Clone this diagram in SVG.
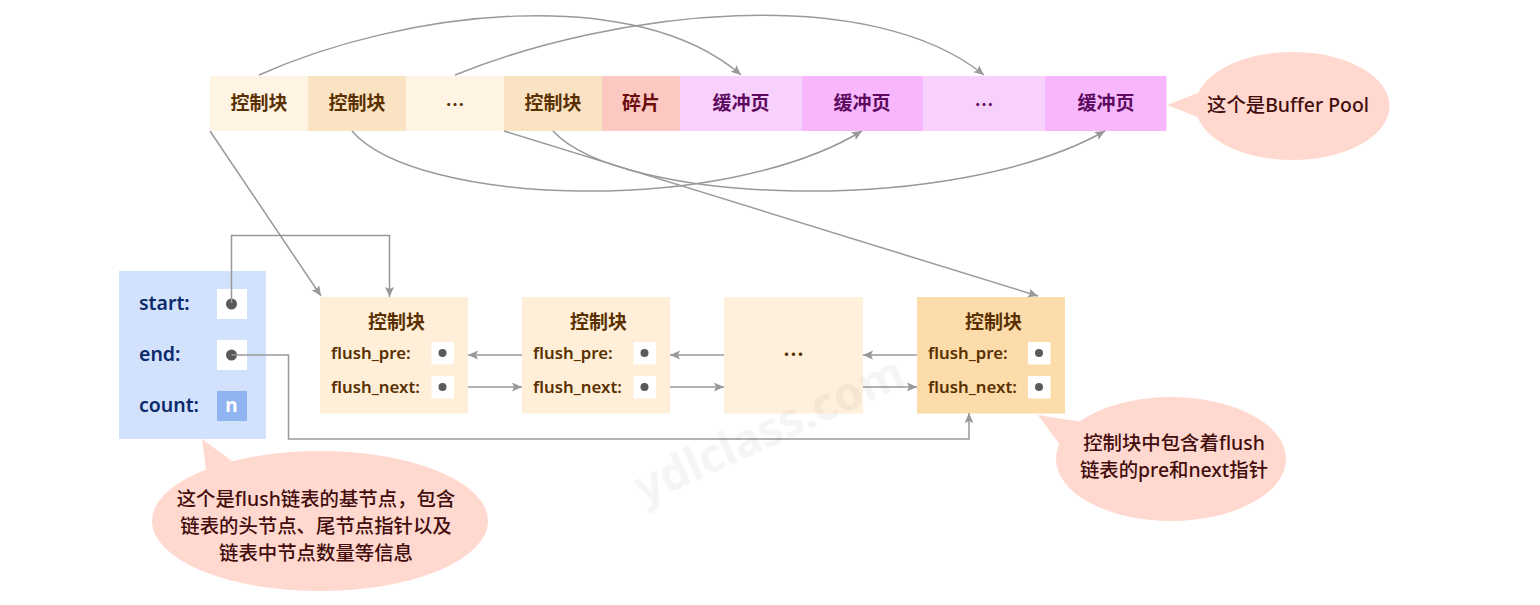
<svg xmlns="http://www.w3.org/2000/svg" width="1540" height="605" viewBox="0 0 1540 605">
<style>
text{font-family:"Noto Sans","Noto Sans CJK SC",sans-serif;text-anchor:middle;dominant-baseline:central}
.t{font-size:19px;font-weight:700;fill:#5a3000}
.e{font-family:"Noto Sans CJK SC",sans-serif}
.m{fill:#5c0a60}
.f{font-size:16.800px;font-weight:600;fill:#5a3000;text-anchor:start}
.b{font-size:19.500px;font-weight:600;fill:#0b2a6b;text-anchor:start}
.c{font-size:19.400px;font-weight:500;fill:#430d0d}
.w{fill:#fff}
.d{fill:#5a5a5a}
.l{fill:none;stroke:#999;stroke-width:1.5}
.a{marker-end:url(#arr)}
.bub{fill:#ffd9cf}
</style>
<defs><marker id="arr" markerUnits="userSpaceOnUse" markerWidth="12" markerHeight="10" refX="10" refY="4.500" orient="auto"><path d="M0 0L10 4.500L0 9L2 4.500Z" fill="#999"/></marker></defs>
<g id="pool">
<rect x="210" y="76" width="98" height="55" fill="#fff3e3"/><rect x="308" y="76" width="98" height="55" fill="#fae3c2"/><rect x="406" y="76" width="98" height="55" fill="#fff3e3"/><rect x="504" y="76" width="98" height="55" fill="#fae3c2"/><rect x="602" y="76" width="78" height="55" fill="#fbc8c2"/><rect x="680" y="76" width="121.500" height="55" fill="#f7d1fb"/><rect x="801.500" y="76" width="121.500" height="55" fill="#f8b7fd"/><rect x="923" y="76" width="122" height="55" fill="#f7d1fb"/><rect x="1045" y="76" width="121.500" height="55" fill="#f8b7fd"/>
<text class="t" x="259" y="103">控制块</text><text class="t" x="357" y="103">控制块</text><text class="t e" x="455" y="103">…</text><text class="t" x="553" y="103">控制块</text><text class="t" x="641" y="103" style="fill:#6b0d0d">碎片</text><text class="t m" x="741" y="103">缓冲页</text><text class="t m" x="862" y="103">缓冲页</text><text class="t m e" x="984" y="103">…</text><text class="t m" x="1106" y="103">缓冲页</text>
</g>
<g id="base"><rect x="119" y="271" width="147" height="168" fill="#d3e2fc"/>
<text class="b" x="139" y="302">start:</text><text class="b" x="139" y="353">end:</text><text class="b" x="139" y="404">count:</text>
<rect class="w" x="217" y="289" width="30" height="30"/><rect class="w" x="217" y="340" width="30" height="30"/><rect x="217" y="391" width="30" height="30" fill="#8fb4f0"/>
<circle class="d" cx="231.500" cy="304" r="5.500"/><circle class="d" cx="231.500" cy="355" r="5.500"/><text x="231.500" y="405" style="font-size:19px;font-weight:700;fill:#fff">n</text></g>
<g id="node1"><rect x="320" y="297" width="148" height="116.500" fill="#ffefd9"/><text class="t" x="396.500" y="322">控制块</text><text class="f" x="331" y="352">flush_pre:</text><text class="f" x="331" y="386">flush_next:</text><rect class="w" x="431.500" y="342" width="22.500" height="22.500"/><rect class="w" x="431.500" y="376" width="22.500" height="22.500"/><circle class="d" cx="442.500" cy="353" r="4"/><circle class="d" cx="442.500" cy="387" r="4"/></g>
<g id="node2"><rect x="522" y="297" width="148" height="116.500" fill="#ffefd9"/><text class="t" x="598.500" y="322">控制块</text><text class="f" x="533" y="352">flush_pre:</text><text class="f" x="533" y="386">flush_next:</text><rect class="w" x="633.500" y="342" width="22.500" height="22.500"/><rect class="w" x="633.500" y="376" width="22.500" height="22.500"/><circle class="d" cx="644.500" cy="353" r="4"/><circle class="d" cx="644.500" cy="387" r="4"/></g>
<g id="node3"><rect x="724" y="297" width="139" height="116.500" fill="#fff0dc"/><text class="t e" x="793.500" y="353" style="font-size:21px">…</text></g>
<g id="node4"><rect x="917" y="297" width="148" height="116.500" fill="#fddcab"/><text class="t" x="993.500" y="322">控制块</text><text class="f" x="928" y="352">flush_pre:</text><text class="f" x="928" y="386">flush_next:</text><rect class="w" x="1028" y="342" width="22.500" height="22.500"/><rect class="w" x="1028" y="376" width="22.500" height="22.500"/><circle class="d" cx="1039" cy="353" r="4"/><circle class="d" cx="1039" cy="387" r="4"/></g>
<g id="connectors">
<path class="l a" d="M259 75C405 10 635 -17 741 75"/>
<path class="l a" d="M455 75C615 10 869 -18 984 75"/>
<path class="l a" d="M352 131C415 205 720 217 862 131"/>
<path class="l a" d="M553 131C621 205 952 217 1105 131"/>
<path class="l a" d="M210 131L321 296"/>
<path class="l a" d="M504 131L1038 296"/>
<path class="l a" d="M231.500 303V235.500H389.500V297"/>
<path class="l a" d="M231.500 355H288.500V439H969V413"/>
<path class="l a" d="M522 355H468"/><path class="l a" d="M724 355H670"/><path class="l a" d="M917 355H863"/>
<path class="l a" d="M468 387H522"/><path class="l a" d="M670 387H724"/><path class="l a" d="M863 387H917"/>
</g>
<g id="note-pool"><path class="bub" d="M1167 105L1200 92L1200 118Z"/><ellipse class="bub" cx="1292.500" cy="106" rx="97" ry="54"/><text class="c" x="1288" y="104">这个是Buffer Pool</text></g>
<g id="note-base"><path class="bub" d="M202 439L232 461L206 470Z"/><ellipse class="bub" cx="320" cy="521" rx="168" ry="70"/><text class="c" x="316" y="498">这个是flush链表的基节点，包含</text><text class="c" x="316" y="525">链表的头节点、尾节点指针以及</text><text class="c" x="316" y="552">链表中节点数量等信息</text></g>
<g id="note-node"><path class="bub" d="M1038 415L1082 422L1060 445Z"/><ellipse class="bub" cx="1171" cy="459" rx="115" ry="62"/><text class="c" x="1174" y="442">控制块中包含着flush</text><text class="c" x="1174" y="469">链表的pre和next指针</text></g>
<text id="watermark" x="768" y="428" transform="rotate(-24.500 768 428)" style="font-size:46px;font-weight:700;fill:#000;opacity:.035">ydlclass.com</text>
</svg>
